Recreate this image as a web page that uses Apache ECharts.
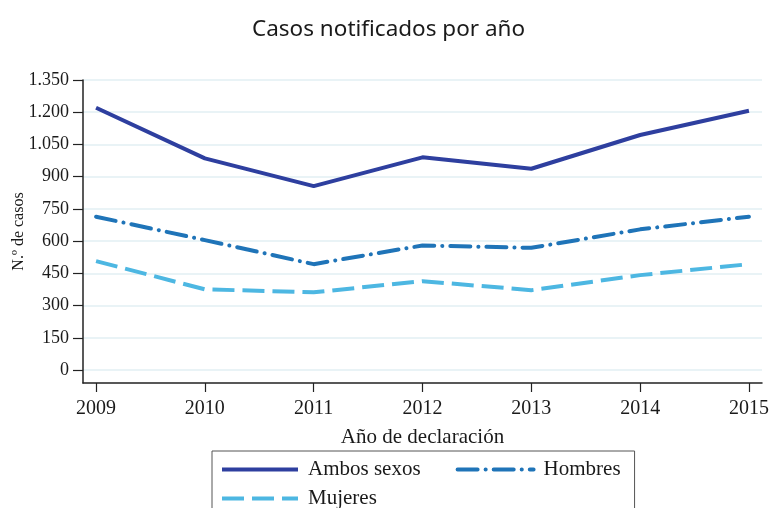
<!DOCTYPE html>
<html>
<head>
<meta charset="utf-8">
<script src="https://cdn.jsdelivr.net/npm/echarts@6/dist/echarts.min.js"></script>
<style>
  html, body { margin: 0; padding: 0; background: #fff; }
  #chart { width: 769px; height: 508px; }
</style>
</head>
<body>
<div id="chart"></div>
<script>
  // años de declaración
  const years = [2009, 2010, 2011, 2012, 2013, 2014, 2015]
  // casos notificados
  const ambosSexos = [1221, 985, 856, 990, 937, 1094, 1207]
  const hombres = [714, 605, 493, 580, 569, 655, 714]
  const mujeres = [507, 376, 362, 414, 372, 442, 493]
  // marcas del eje y
  const yTicks = [0, 150, 300, 450, 600, 750, 900, 1050, 1200, 1350]

  const serif = 'Liberation Serif'
  const toPairs = (vals) => vals.map((v, i) => [years[i], v])
  const fmtNum = (v) => String(v).replace(/\B(?=(\d{3})+(?!\d))/g, '.')

  const legendText = { fontFamily: serif, fontSize: 21, color: '#1a1a1a', padding: [0, 0, 0, 5] }

  const option = {
    animation: false,
    title: {
      text: 'Casos notificados por año',
      left: 247,
      top: 13,
      textStyle: { fontFamily: 'Noto Sans', fontWeight: 'normal', fontSize: 22.5, color: '#1a1a1a' },
    },
    legend: [
      {
        data: ['Ambos sexos', 'Hombres'],
        left: 212,
        top: 451,
        orient: 'horizontal',
        itemWidth: 76,
        itemHeight: 14,
        itemGap: 35,
        padding: [8, 14, 40, 8],
        borderColor: '#555',
        borderWidth: 1,
        itemStyle: { opacity: 0 },
        lineStyle: { width: 4 },
        textStyle: legendText,
      },
      {
        data: ['Mujeres'],
        left: 220,
        top: 488,
        itemWidth: 76,
        itemHeight: 14,
        padding: 0,
        itemStyle: { opacity: 0 },
        lineStyle: { width: 4 },
        textStyle: legendText,
      },
    ],
    grid: { left: 83, right: 7, top: 80, bottom: 125, outerBoundsMode: 'none' },
    xAxis: {
      type: 'value',
      min: 2008.88,
      max: 2015.12,
      name: 'Año de declaración',
      nameLocation: 'middle',
      nameGap: 44,
      nameTextStyle: { fontFamily: serif, fontSize: 21, color: '#1a1a1a' },
      axisLine: { onZero: false, lineStyle: { color: '#222', width: 1.5 } },
      axisTick: { customValues: years, length: 9, lineStyle: { color: '#222', width: 1.2 } },
      axisLabel: {
        customValues: years,
        margin: 16,
        fontFamily: serif,
        fontSize: 20,
        color: '#1a1a1a',
        formatter: (v) => String(v),
      },
      splitLine: { show: false },
    },
    yAxis: {
      type: 'value',
      min: -60,
      max: 1350,
      name: 'N.º de casos',
      nameLocation: 'middle',
      nameRotate: 90,
      nameGap: 56,
      nameMoveOverlap: false,
      nameTextStyle: { fontFamily: serif, fontSize: 16, color: '#1a1a1a' },
      axisLine: { show: true, onZero: false, lineStyle: { color: '#222', width: 1.5 } },
      axisTick: { show: true, customValues: yTicks, length: 10, lineStyle: { color: '#222', width: 1.2 } },
      axisLabel: {
        customValues: yTicks,
        margin: 14,
        fontFamily: serif,
        fontSize: 18,
        color: '#1a1a1a',
        formatter: (v) => fmtNum(v),
      },
      splitLine: { show: true, lineStyle: { color: '#e2eff3', width: 1.5 } },
    },
    series: [
      {
        name: 'Ambos sexos',
        type: 'line',
        data: toPairs(ambosSexos),
        symbol: 'none',
        color: '#2e3f9f',
        lineStyle: { width: 4, color: '#2e3f9f' },
      },
      {
        name: 'Hombres',
        type: 'line',
        data: toPairs(hombres),
        symbol: 'none',
        color: '#1f74b8',
        lineStyle: { width: 4, color: '#1f74b8', type: [20, 8, 0.1, 8], cap: 'round' },
      },
      {
        name: 'Mujeres',
        type: 'line',
        data: toPairs(mujeres),
        symbol: 'none',
        color: '#4db7e2',
        lineStyle: { width: 4, color: '#4db7e2', type: [22, 8] },
      },
    ],
  }

  const myChart = echarts.init(document.getElementById('chart'))
  myChart.setOption(option)
</script>
</body>
</html>
